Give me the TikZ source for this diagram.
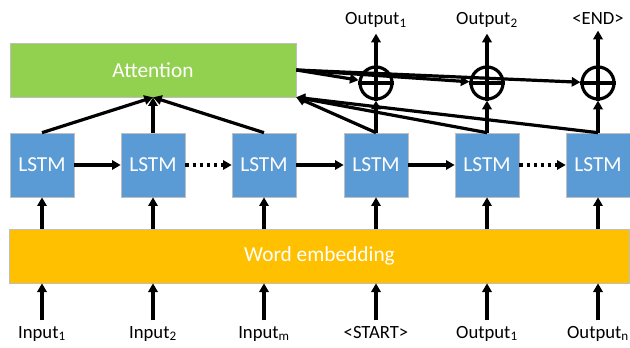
\documentclass[tikz,border=0pt]{standalone}
\usepackage{fontspec}
\setmainfont{Carlito}
\usetikzlibrary{arrows.meta,positioning}
\definecolor{attgreen}{HTML}{92D050}
\definecolor{lstmblue}{HTML}{5B9BD5}
\definecolor{embyellow}{HTML}{FFC000}
\tikzset{
  box/.style={draw=gray!50,line width=0.5pt,inner sep=0pt,text=white,font=\fontsize{16}{19}\selectfont},
  lstm/.style={box,fill=lstmblue,minimum width=48pt,minimum height=48pt},
  sum/.style={circle,draw,line width=2.4pt,minimum size=24pt,inner sep=0pt},
  lbl/.style={font=\fontsize{14}{16}\selectfont,inner sep=3pt}
}
\begin{document}
\begin{tikzpicture}[x=0.75pt,y=-0.75pt,>={Triangle[length=6.5pt,width=7pt]},line width=2.4pt]
	\useasboundingbox (0,0) rectangle (630,348);
	\node[box,fill=attgreen,minimum width=214.5pt,minimum height=40.5pt] (att) at (153,70) {Attention};
	\node[box,fill=embyellow,minimum width=465pt,minimum height=40.5pt] (emb) at (319.5,256) {Word embedding};
	\node[lstm] (l1) at (42,165) {LSTM};
	\node[lstm] (l2) at (153,165) {LSTM};
	\node[lstm] (l3) at (264,165) {LSTM};
	\node[lstm] (l4) at (376,165) {LSTM};
	\node[lstm] (l5) at (487,165) {LSTM};
	\node[lstm] (l6) at (598,165) {LSTM};
	\node[sum] (s1) at (376,83) {};
	\node[sum] (s2) at (487,83) {};
	\node[sum] (s3) at (598,83) {};
	\draw (s1.north)--(s1.south) (s1.west)--(s1.east);
	\draw (s2.north)--(s2.south) (s2.west)--(s2.east);
	\draw (s3.north)--(s3.south) (s3.west)--(s3.east);
	% labels
	\node[lbl,anchor=base] (in1) at (42,338) {Input\textsubscript{1}};
	\node[lbl,anchor=base] (in2) at (153,338) {Input\textsubscript{2}};
	\node[lbl,anchor=base] (in3) at (264,338) {Input\textsubscript{m}};
	\node[lbl,anchor=base] (in4) at (376,338) {\textless START\textgreater};
	\node[lbl,anchor=base] (in5) at (487,338) {Output\textsubscript{1}};
	\node[lbl,anchor=base] (in6) at (598,338) {Output\textsubscript{n}};
	\node[lbl,anchor=base] (out1) at (376,25) {Output\textsubscript{1}};
	\node[lbl,anchor=base] (out2) at (487,25) {Output\textsubscript{2}};
	\node[lbl,anchor=base] (out3) at (598,25) {\textless END\textgreater};
	% inputs
	\draw[->] (in1.north) -- (in1.north |- emb.south);
	\draw[->] (in2.north) -- (in2.north |- emb.south);
	\draw[->] (in3.north) -- (in3.north |- emb.south);
	\draw[->] (in4.north) -- (in4.north |- emb.south);
	\draw[->] (in5.north) -- (in5.north |- emb.south);
	\draw[->] (in6.north) -- (in6.north |- emb.south);
	\draw[->] (l1 |- emb.north) -- (l1.south);
	\draw[->] (l2 |- emb.north) -- (l2.south);
	\draw[->] (l3 |- emb.north) -- (l3.south);
	\draw[->] (l4 |- emb.north) -- (l4.south);
	\draw[->] (l5 |- emb.north) -- (l5.south);
	\draw[->] (l6 |- emb.north) -- (l6.south);
	% chain
	\draw[->] (l1) -- (l2);
	\draw[->,dash pattern=on 2.4pt off 3pt] (l2) -- (l3);
	\draw[->] (l3) -- (l4);
	\draw[->] (l4) -- (l5);
	\draw[->,dash pattern=on 2.4pt off 3pt] (l5) -- (l6);
	% attention
	\draw[->] (l1.north) -- (att.south);
	\draw[->] (l2.north) -- (att.south);
	\draw[->] (l3.north) -- (att.south);
	\draw[->] (l4.north) -- (att.south east);
	\draw[->] (l5.north) -- (att.south east);
	\draw[->] (l6.north) -- (att.south east);
	\draw[->] (l4.north) -- (s1.south);
	\draw[->] (l5.north) -- (s2.south);
	\draw[->] (l6.north) -- (s3.south);
	\draw[->] (att.east) -- (s1);
	\draw[->] (att.east) -- (s2);
	\draw[->] (att.east) -- (s3);
	\draw[->] (s1.north) -- (out1.south);
	\draw[->] (s2.north) -- (out2.south);
	\draw[->] (s3.north) -- (out3.south);
\end{tikzpicture}
\end{document}
